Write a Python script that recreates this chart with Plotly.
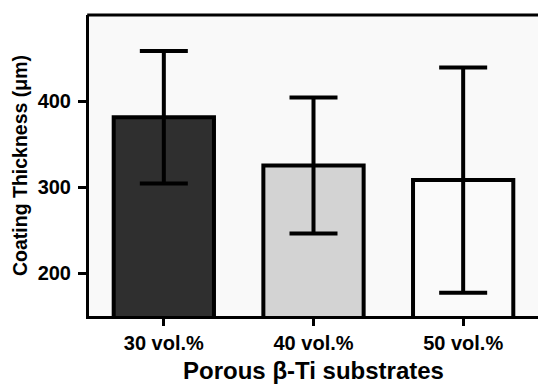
import plotly.graph_objects as go

categories = ["30 vol.%", "40 vol.%", "50 vol.%"]
thickness = [381, 325, 308]
std_dev = [77, 79, 131]
bar_colors = ["#2f2f2f", "#d3d3d3", "#fafafa"]
y_ticks = [200, 300, 400]

font_family = "Liberation Sans, Arial, sans-serif"

fig = go.Figure()
fig.add_trace(go.Bar(
    x=categories,
    y=thickness,
    width=0.67,
    marker=dict(color=bar_colors, line=dict(color="black", width=4)),
    error_y=dict(type="data", array=std_dev, visible=True,
                 color="black", thickness=4, width=24),
    showlegend=False,
))

fig.update_layout(
    width=538, height=384,
    margin=dict(l=89, r=0, t=15, b=68),
    paper_bgcolor="white",
    plot_bgcolor="#f9f9f9",
    font=dict(family=font_family, color="black", weight="bold"),
    shapes=[dict(type="line", xref="paper", yref="paper",
                 x0=-0.004, x1=1.01, y0=1, y1=1,
                 line=dict(color="black", width=3))],
)
fig.update_xaxes(
    range=[-0.5, 2.5],
    showline=True, linecolor="black", linewidth=3,
    ticks="outside", ticklen=7, tickwidth=3, tickcolor="black",
    tickfont=dict(size=20, family=font_family, weight="bold"),
    title=dict(text="Porous β-Ti substrates",
               font=dict(size=24, family=font_family, weight="bold"),
               standoff=11),
    showgrid=False, zeroline=False,
)
fig.update_yaxes(
    range=[150, 500],
    tickvals=y_ticks,
    showline=True, linecolor="black", linewidth=3,
    ticks="outside", ticklen=8, tickwidth=3, tickcolor="black",
    ticklabelstandoff=3,
    tickfont=dict(size=20, family=font_family, weight="bold"),
    title=dict(text="Coating Thickness (μm)",
               font=dict(size=19.5, family=font_family, weight="bold"),
               standoff=5),
    showgrid=False, zeroline=False,
)

fig.write_html("out.html", config={"displayModeBar": False})
